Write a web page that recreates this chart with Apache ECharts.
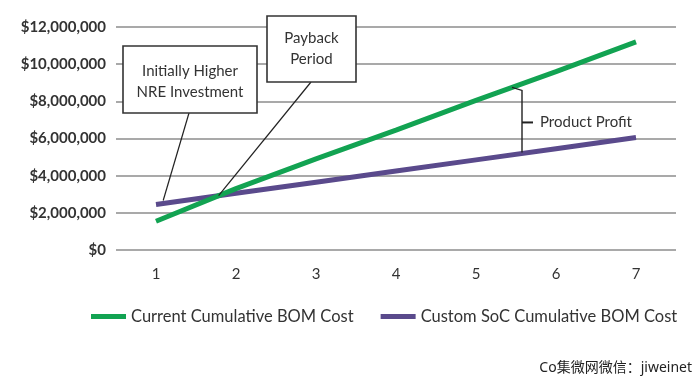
<!DOCTYPE html>
<html>
<head>
<meta charset="utf-8">
<script src="https://cdn.jsdelivr.net/npm/echarts@6/dist/echarts.min.js"></script>
<style>
html,body{margin:0;padding:0;background:#fff;}
#chart{width:700px;height:387px;}
</style>
</head>
<body>
<div id="chart"></div>
<script>
const categories = ['1', '2', '3', '4', '5', '6', '7'];
const seriesNames = ['Current Cumulative BOM Cost', 'Custom SoC Cumulative BOM Cost'];
const currentBom = [1550000, 3300000, 4900000, 6450000, 8050000, 9600000, 11200000];
const customBom = [2450000, 3050000, 3650000, 4250000, 4850000, 5450000, 6050000];
const yMin = 0, yMax = 12000000, yStep = 2000000;
const calloutNre = ['Initially Higher', 'NRE Investment'];
const calloutPayback = ['Payback', 'Period'];
const profitLabel = 'Product Profit';
const watermark = 'Co集微网微信：jiweinet';

const FONT = 'Lato, "Open Sans", sans-serif';
const TXT = '#333333';
const GREEN = '#12a352';
const PURPLE = '#5a4a8c';

const chart = echarts.init(document.getElementById('chart'), null, {renderer: 'canvas'});
chart.setOption({
  animation: false,
  backgroundColor: '#ffffff',
  grid: {left: 116, right: 24, top: 27, bottom: 137, containLabel: false},
  xAxis: {
    type: 'category', data: categories, boundaryGap: true,
    axisLine: {show: false}, axisTick: {show: false},
    axisLabel: {color: TXT, fontFamily: FONT, fontSize: 15, margin: 17}
  },
  yAxis: {
    type: 'value', min: yMin, max: yMax, interval: yStep,
    axisLine: {show: false}, axisTick: {show: false},
    splitLine: {lineStyle: {color: '#8c8c8c', width: 1.5}},
    axisLabel: {
      color: TXT, fontFamily: FONT, fontSize: 15, fontWeight: 'bold', margin: 10,
      formatter: v => '$' + v.toLocaleString('en-US')
    }
  },
  legend: {
    left: 86, top: 303, itemWidth: 35, itemHeight: 5, itemGap: 27,
    icon: 'rect',
    textStyle: {color: TXT, fontFamily: FONT, fontSize: 16.5, padding: [0, 0, 0, 0]},
    data: seriesNames
  },
  series: [
    {name: seriesNames[0], type: 'line', data: currentBom, symbol: 'none',
     lineStyle: {width: 5, color: GREEN}, itemStyle: {color: GREEN}, z: 3},
    {name: seriesNames[1], type: 'line', data: customBom, symbol: 'none',
     lineStyle: {width: 5, color: PURPLE}, itemStyle: {color: PURPLE}, z: 2}
  ]
});

function valAt(arr, t) {
  const i = Math.min(Math.floor(t), arr.length - 2);
  const f = t - i;
  return arr[i] + (arr[i + 1] - arr[i]) * f;
}
function px(t, v) {
  const x0 = chart.convertToPixel({xAxisIndex: 0}, 0);
  const x1 = chart.convertToPixel({xAxisIndex: 0}, 1);
  const y = chart.convertToPixel({yAxisIndex: 0}, v);
  return [x0 + t * (x1 - x0), y];
}

// crossing of the two series
let tc = 0;
for (let i = 0; i < categories.length - 1; i++) {
  const d0 = currentBom[i] - customBom[i], d1 = currentBom[i + 1] - customBom[i + 1];
  if (d0 <= 0 && d1 >= 0) { tc = i + (-d0) / (d1 - d0); break; }
}
const cross = px(tc, valAt(currentBom, tc));
const nreEnd = px(0.09, valAt(customBom, 0.09));

const tHook = 4.45, tBr = 4.575;
const gHook = px(tHook, valAt(currentBom, tHook));
const gTop = px(tBr, valAt(currentBom, tBr));
const pBot = px(tBr, valAt(customBom, tBr));
const xb = gTop[0];
const yTop = gHook[1] + 3;
const yBot = pBot[1] - 1;
const yMid = (yTop + yBot) / 2 + 1;

const boxStyle = {fill: '#ffffff', stroke: '#333333', lineWidth: 1.6};
function label(x, y, text) {
  return {type: 'text', z: 102, x: x, y: y,
    style: {text: text, fill: TXT, font: '15px ' + FONT, align: 'center', verticalAlign: 'middle'}};
}

chart.setOption({
  graphic: [
    {type: 'line', z: 100, shape: {x1: 189, y1: 113, x2: nreEnd[0], y2: nreEnd[1] - 3},
     style: {stroke: '#222', lineWidth: 1.2}},
    {type: 'line', z: 100, shape: {x1: 311, y1: 82, x2: cross[0], y2: cross[1]},
     style: {stroke: '#222', lineWidth: 1.2}},
    {type: 'rect', z: 101, shape: {x: 123, y: 46, width: 134, height: 67}, style: boxStyle},
    label(190, 71, calloutNre[0]),
    label(190, 92, calloutNre[1]),
    {type: 'rect', z: 101, shape: {x: 267, y: 16, width: 89, height: 66}, style: boxStyle},
    label(311.5, 38, calloutPayback[0]),
    label(311.5, 59, calloutPayback[1]),
    {type: 'polyline', z: 100,
     shape: {points: [[gHook[0], gHook[1]], [xb, yTop], [xb, yBot]]},
     style: {stroke: '#222', lineWidth: 1.4, fill: null}},
    {type: 'line', z: 100, shape: {x1: xb, y1: yMid, x2: xb + 11, y2: yMid},
     style: {stroke: '#222', lineWidth: 2}},
    {type: 'text', z: 100, x: xb + 18, y: yMid,
     style: {text: profitLabel, fill: TXT, font: '15px ' + FONT, verticalAlign: 'middle'}},
    {type: 'text', z: 100, right: 8, top: 361,
     style: {text: watermark, fill: '#222', font: '14px "Noto Sans", "Noto Sans CJK SC", sans-serif'}}
  ]
});
</script>
</body>
</html>
